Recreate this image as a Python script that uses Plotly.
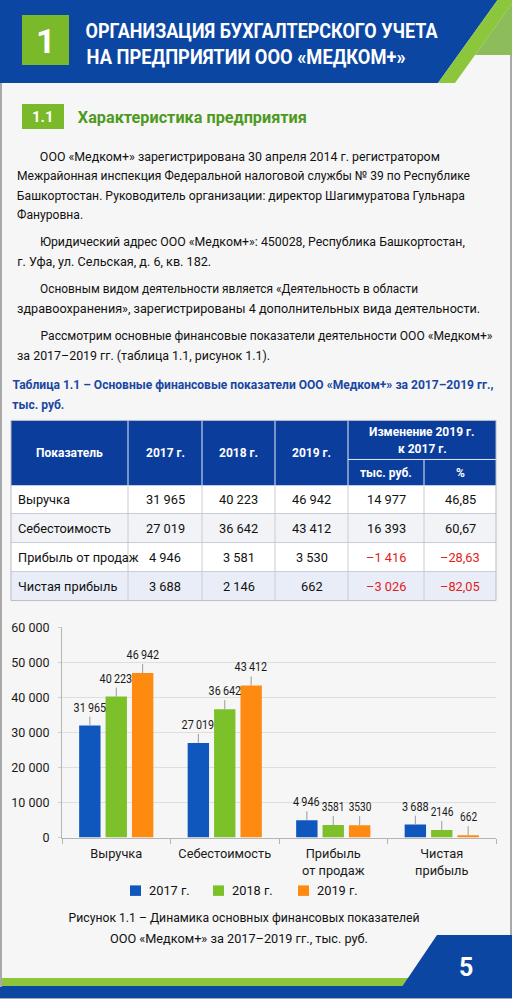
import json
import plotly.graph_objects as go

W, H = 512, 999
# the rendered paper area was measured to span page rows 8..991; map page pixels onto it
PAD_T, PAPER_H = 8, 983


def X(px):
    return px / W


def Y(py):
    return 1 - (py - PAD_T) / PAPER_H


def path(points):
    return "M " + " L ".join(f"{X(a):.5f},{Y(b):.5f}" for a, b in points) + " Z"


# ---------------- data ----------------
categories = ["Выручка", "Себестоимость", "Прибыль<br>от продаж", "Чистая<br>прибыль"]
indicators = ["Выручка", "Себестоимость", "Прибыль от продаж", "Чистая прибыль"]
years = ["2017 г.", "2018 г.", "2019 г."]
v2017 = [31965, 27019, 4946, 3688]
v2018 = [40223, 36642, 3581, 2146]
v2019 = [46942, 43412, 3530, 662]
chg_abs = [14977, 16393, -1416, -3026]
chg_pct = [46.85, 60.67, -28.63, -82.05]
y_tickvals = [0, 10000, 20000, 30000, 40000, 50000, 60000]
y_ticktext = ["0", "10 000", "20 000", "30 000", "40 000", "50 000", "60 000"]

header_title = ["ОРГАНИЗАЦИЯ БУХГАЛТЕРСКОГО УЧЕТА", "НА ПРЕДПРИЯТИИ ООО «МЕДКОМ+»"]
section_no = "1.1"
section_title = "Характеристика предприятия"
paragraph_lines = [
    "ООО «Медком+» зарегистрирована 30 апреля 2014 г. регистратором",
    "Межрайонная инспекция Федеральной налоговой службы № 39 по Республике",
    "Башкортостан. Руководитель организации: директор Шагимуратова Гульнара",
    "Фануровна.",
    "Юридический адрес ООО «Медком+»: 450028, Республика Башкортостан,",
    "г. Уфа, ул. Сельская, д. 6, кв. 182.",
    "Основным видом деятельности является «Деятельность в области",
    "здравоохранения», зарегистрированы 4 дополнительных вида деятельности.",
    "Рассмотрим основные финансовые показатели деятельности ООО «Медком+»",
    "за 2017–2019 гг. (таблица 1.1, рисунок 1.1).",
]
table_title = ["Таблица 1.1 – Основные финансовые показатели ООО «Медком+» за 2017–2019 гг.,",
               "тыс. руб."]
caption = ["Рисунок 1.1 – Динамика основных финансовых показателей",
           "ООО «Медком+» за 2017–2019 гг., тыс. руб."]
page_no = "5"

# line layout (left, right, centre-y) in page pixels
paragraph_box = [(40, 440, 156), (17, 470, 175), (17, 465, 195), (17, 83, 214),
                 (40, 465, 241), (17, 211, 261), (40, 418, 288), (17, 480, 308),
                 (40, 492, 335), (17, 270, 355)]


def fmt_int(v, sep=" "):
    s = f"{abs(v):,}".replace(",", sep)
    return ("–" + s) if v < 0 else s


def fmt_pct(v):
    s = f"{abs(v):.2f}".replace(".", ",")
    return ("–" + s) if v < 0 else s


# ---------------- colours / fonts ----------------
BLUE = "#0c46a3"
TBL_BLUE = "#0a3d9c"
GREEN = "#7ab929"
GREEN_TXT = "#4e9a1e"
C17, C18, C19 = "#0f57bd", "#7dc12a", "#ff8a12"
BODY = "Roboto, 'Noto Sans', sans-serif"

shapes = []
ann = []
FITS = {}   # annotation index -> target text width (px)


def rect(x0, y0, x1, y1, fill, line=None, lw=0, layer="below"):
    shapes.append(dict(type="rect", xref="paper", yref="paper",
                       x0=X(x0), x1=X(x1), y0=Y(y1), y1=Y(y0),
                       fillcolor=fill, line=dict(color=line or fill, width=lw), layer=layer))


def line(x0, y0, x1, y1, color, lw=1, layer="below"):
    shapes.append(dict(type="line", xref="paper", yref="paper",
                       x0=X(x0), x1=X(x1), y0=Y(y0), y1=Y(y1),
                       line=dict(color=color, width=lw), layer=layer))


def poly(points, fill, layer="below"):
    shapes.append(dict(type="path", xref="paper", yref="paper", path=path(points),
                       fillcolor=fill, line=dict(width=0), layer=layer))


def text(x, y, t, size=13, color="#111", xa="left", weight="normal"):
    ann.append(dict(xref="paper", yref="paper", x=X(x), y=Y(y), text=t, showarrow=False,
                    xanchor=xa, yanchor="middle",
                    font=dict(size=size, color=color, family=BODY, weight=weight)))


def fit_text(x0, x1, y, t, size=13, color="#111", weight="normal"):
    # text centred between x0 and x1 and squeezed/stretched to that width in the browser
    text((x0 + x1) / 2, y, t, size=size, color=color, xa="center", weight=weight)
    FITS[len(ann) - 1] = x1 - x0


# ---------------- header ----------------
poly([(0, -2), (499, -2), (438, 83), (0, 83)], BLUE)
poly([(516, -2), (475, 55), (514, 55), (514, -2)], "#8dbd5a")
poly([(499, -2), (516, -2), (455, 83), (438, 83)], "#8cc63c")
rect(22, 15, 69, 65, GREEN)
text(45.5, 41, "1", size=34, color="white", xa="center", weight="bold")
fit_text(86, 438, 31, header_title[0], size=21, color="white", weight="bold")
fit_text(86, 405, 57, header_title[1], size=21, color="white", weight="bold")

# section 1.1
rect(22, 104, 64, 129, GREEN)
text(43, 117, section_no, size=15, color="white", xa="center", weight="bold")
fit_text(78, 307, 117, section_title, size=16.5, color=GREEN_TXT, weight="bold")

for t, (x0, x1, yy) in zip(paragraph_lines, paragraph_box):
    fit_text(x0, x1, yy, t, size=12.5)

# ---------------- table ----------------
fit_text(12, 493, 385, table_title[0], size=12.2, color="#1a47a3", weight="bold")
fit_text(12, 64, 405, table_title[1], size=12.2, color="#1a47a3", weight="bold")

col_x = [11, 128, 202, 275, 348, 424, 496]
row_y = [485, 513, 542, 571, 600]
row_fill = ["#ffffff", "#f2f3f6", "#ffffff", "#e9edf7"]
rect(col_x[0], 420, col_x[-1], 485, TBL_BLUE)
for i in range(4):
    rect(col_x[0], row_y[i], col_x[-1], row_y[i + 1], row_fill[i])
for i in range(1, 4):
    line(col_x[0], row_y[i], col_x[-1], row_y[i], "#c9ccd4", 1)
for j, cx in enumerate(col_x[1:-1], start=1):
    line(cx, 459 if j == 5 else 420, cx, 485, "#e8ecf5", 1)
    line(cx, 485, cx, 600, "#c9ccd4", 1)
line(col_x[4], 459, col_x[6], 459, "#e8ecf5", 1)
rect(col_x[0], 420, col_x[-1], 600, "rgba(0,0,0,0)", line="#b9bcc4", lw=1)

cx_c = [(col_x[i] + col_x[i + 1]) / 2 for i in range(6)]
HS = 12
text(cx_c[0], 453, "Показатель", size=HS, color="white", xa="center", weight="bold")
for i, yl in enumerate(years):
    text(cx_c[i + 1], 453, yl, size=HS, color="white", xa="center", weight="bold")
text((col_x[4] + col_x[6]) / 2, 432, "Изменение 2019 г.", size=HS, color="white", xa="center", weight="bold")
text((col_x[4] + col_x[6]) / 2, 449, "к 2017 г.", size=HS, color="white", xa="center", weight="bold")
text(cx_c[4], 473, "тыс. руб.", size=HS, color="white", xa="center", weight="bold")
text(cx_c[5], 473, "%", size=HS, color="white", xa="center", weight="bold")

RED = "#e3211c"
for i in range(4):
    yc = (row_y[i] + row_y[i + 1]) / 2
    text(16, yc, indicators[i], size=12.8)
    text(cx_c[1], yc, fmt_int(v2017[i]), size=12.8, xa="center")
    text(cx_c[2], yc, fmt_int(v2018[i]), size=12.8, xa="center")
    text(cx_c[3], yc, fmt_int(v2019[i]), size=12.8, xa="center")
    text(cx_c[4], yc, fmt_int(chg_abs[i]), size=12.8, xa="center",
         color=RED if chg_abs[i] < 0 else "#111")
    text(cx_c[5], yc, fmt_pct(chg_pct[i]), size=12.8, xa="center",
         color=RED if chg_pct[i] < 0 else "#111")

# ---------------- chart ----------------
fig = go.Figure()
series = [(years[0], v2017, C17), (years[1], v2018, C18), (years[2], v2019, C19)]
for name, vals, col in series:
    fig.add_trace(go.Bar(x=categories, y=vals, name=name,
                         marker=dict(color=col, line=dict(width=0)),
                         hoverinfo="skip", showlegend=False))

x_left, x_right = 62, 496
bargap = 0.27
cat_w = (x_right - x_left) / len(categories)
slot = cat_w * (1 - bargap) / 3
for k, (name, vals, col) in enumerate(series):
    for c, v in zip(categories, vals):
        sep = "" if (k > 0 and v < 10000) else "\u2009"
        lbl = fmt_int(v, sep)
        ann.append(dict(xref="x", yref="y", x=c, y=v, xshift=(k - 1) * slot,
                        text=lbl, showarrow=True, arrowhead=0, arrowwidth=1,
                        arrowcolor="#9a9a9a", ax=0, ay=-9, yanchor="bottom", xanchor="center",
                        standoff=0, font=dict(size=12.5, color="#1a1a1a", family=BODY)))
        FITS[len(ann) - 1] = 5.7 * sum(ch.isdigit() for ch in lbl) + 4 * lbl.count("\u2009")

# legend (square + label per series)
leg_sq_x = [130, 213, 298]
for (name, vals, col), sx in zip(series, leg_sq_x):
    rect(sx, 884.5, sx + 11, 895, col)
    text(sx + 17, 889.5, name, size=12.8)

# caption
fit_text(68, 419, 917, caption[0], size=12.5)
fit_text(110, 368, 938, caption[1], size=12.5)

# ---------------- footer ----------------
rect(0, 977, 410, 986, "#8cc63c")
poly([(437, 934), (514, 934), (514, 1008), (387, 1008)], BLUE)
rect(-2, 985, 514, 1008, BLUE)
text(466, 967, page_no, size=25, color="white", xa="center", weight="bold")

# page frame
line(1, 83, 1, 986, "#a8a8a8", 2, layer="above")
line(511, 55, 511, 934, "#a8a8a8", 2, layer="above")
line(-2, 998, 514, 998, "#a8a8a8", 2, layer="above")

fig.update_layout(
    width=W, height=H, margin=dict(l=0, r=0, t=0, b=0),
    paper_bgcolor="#f6f6f6", plot_bgcolor="rgba(0,0,0,0)",
    barmode="group", bargap=bargap, bargroupgap=0.19,
    shapes=shapes, annotations=ann,
    font=dict(family=BODY, size=12.5, color="#1a1a1a"),
    showlegend=False,
    xaxis=dict(domain=[X(x_left), X(x_right)], showline=True, linecolor="#b5b5b5", linewidth=1,
               ticks="outside", tickson="boundaries", ticklen=5, tickcolor="#b5b5b5",
               tickfont=dict(size=12.8, color="#1a1a1a"), showgrid=False, fixedrange=True,
               ticklabelstandoff=4),
    yaxis=dict(domain=[Y(836.7), Y(626.7)], range=[0, 60000], tickvals=y_tickvals,
               ticktext=y_ticktext, showgrid=True, gridcolor="#dedede", gridwidth=1,
               showline=True, linecolor="#b5b5b5", linewidth=1, ticks="outside", ticklen=3,
               tickcolor="#cfcfcf", zeroline=False, tickfont=dict(size=12.5, color="#1a1a1a"),
               ticklabelstandoff=6, fixedrange=True),
)

post_js = """
var st = document.createElement('style');
st.textContent = 'html,body{margin:0!important;padding:0!important;width:512px;height:999px;overflow:hidden;background:#f6f6f6;}';
document.head.appendChild(st);
var gd = document.getElementById('{plot_id}');
if (gd) { gd.style.position = 'fixed'; gd.style.left = '0px'; gd.style.top = '0px'; }
var FITS = %s;
function fitTexts() {
  document.querySelectorAll('g.annotation').forEach(function (g) {
    var w = FITS[g.getAttribute('data-index')];
    var t = g.querySelector('text.annotation-text');
    if (w && t) {
      t.setAttribute('textLength', w);
      t.setAttribute('lengthAdjust', 'spacingAndGlyphs');
    }
  });
}
fitTexts();
if (gd && gd.on) { gd.on('plotly_afterplot', fitTexts); }
setTimeout(fitTexts, 30);
""" % json.dumps({str(k): v for k, v in FITS.items()})

fig.write_html("out.html", post_script=post_js,
               config={"displayModeBar": False, "staticPlot": True})
